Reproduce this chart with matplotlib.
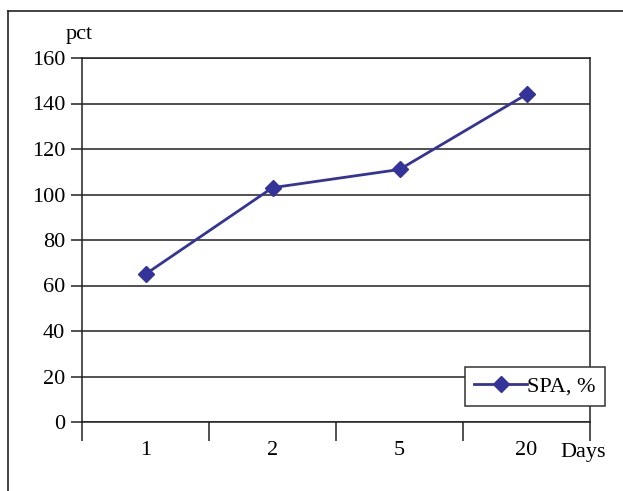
import matplotlib
matplotlib.use("Agg")
import matplotlib.pyplot as plt
from matplotlib.lines import Line2D
import numpy as np

days = ["1", "2", "5", "20"]
spa_pct = [65, 103, 111, 144]
y_ticks = [0, 20, 40, 60, 80, 100, 120, 140, 160]
series_label = "SPA, %"

plt.rcParams["font.family"] = ["Liberation Serif", "DejaVu Serif"]

W, H = 623, 491
fig = plt.figure(figsize=(W / 100, H / 100), dpi=100)
fig.patch.set_facecolor("white")

# outer frame (left and top edges visible)
fig.add_artist(Line2D([8 / W, 8 / W], [0, 1 - 11 / H], transform=fig.transFigure,
                      color="#222222", lw=1.2))
fig.add_artist(Line2D([8 / W, 1], [1 - 11 / H, 1 - 11 / H], transform=fig.transFigure,
                      color="#222222", lw=1.2))

left, right, top, bottom = 82, 590, 58, 422
ax = fig.add_axes([left / W, 1 - bottom / H, (right - left) / W, (bottom - top) / H])

x = np.arange(len(days))
ax.plot(x, spa_pct, color="#333399", lw=2, marker="D", markersize=8,
        markerfacecolor="#333399", markeredgecolor="#333399", label=series_label, zorder=3)

ax.set_xlim(-0.5, len(days) - 0.5)
ax.set_ylim(0, 160)
ax.set_yticks(y_ticks)
ax.yaxis.grid(True, color="#222222", lw=1.1)
ax.set_axisbelow(True)

ax.set_xticks(x)
ax.set_xticklabels(days)
ax.set_xticks(np.arange(-0.5, len(days), 1.0), minor=True)
ax.tick_params(axis="x", which="major", length=0, pad=14, labelsize=16)
ax.tick_params(axis="x", which="minor", length=14, width=1.1, color="#222222", direction="out")
ax.tick_params(axis="y", length=8, width=1.1, color="#222222", labelsize=16, pad=4)

for s in ax.spines.values():
    s.set_color("#222222")
    s.set_linewidth(1.1)

fig.text(66 / W, 1 - 35 / H, "pct", fontsize=16, ha="left", va="center")
fig.text(560 / W, 1 - 453 / H, "Days", fontsize=16, ha="left", va="center")

leg = fig.legend(loc="center", bbox_to_anchor=(535 / W, 1 - 386.5 / H),
                 bbox_transform=fig.transFigure, fontsize=16, frameon=True,
                 fancybox=False, framealpha=1, edgecolor="#333333",
                 handlelength=2.4, handletextpad=0.0, borderpad=0.4)
leg.get_frame().set_linewidth(1.1)

fig.savefig("out.png", dpi=100)
